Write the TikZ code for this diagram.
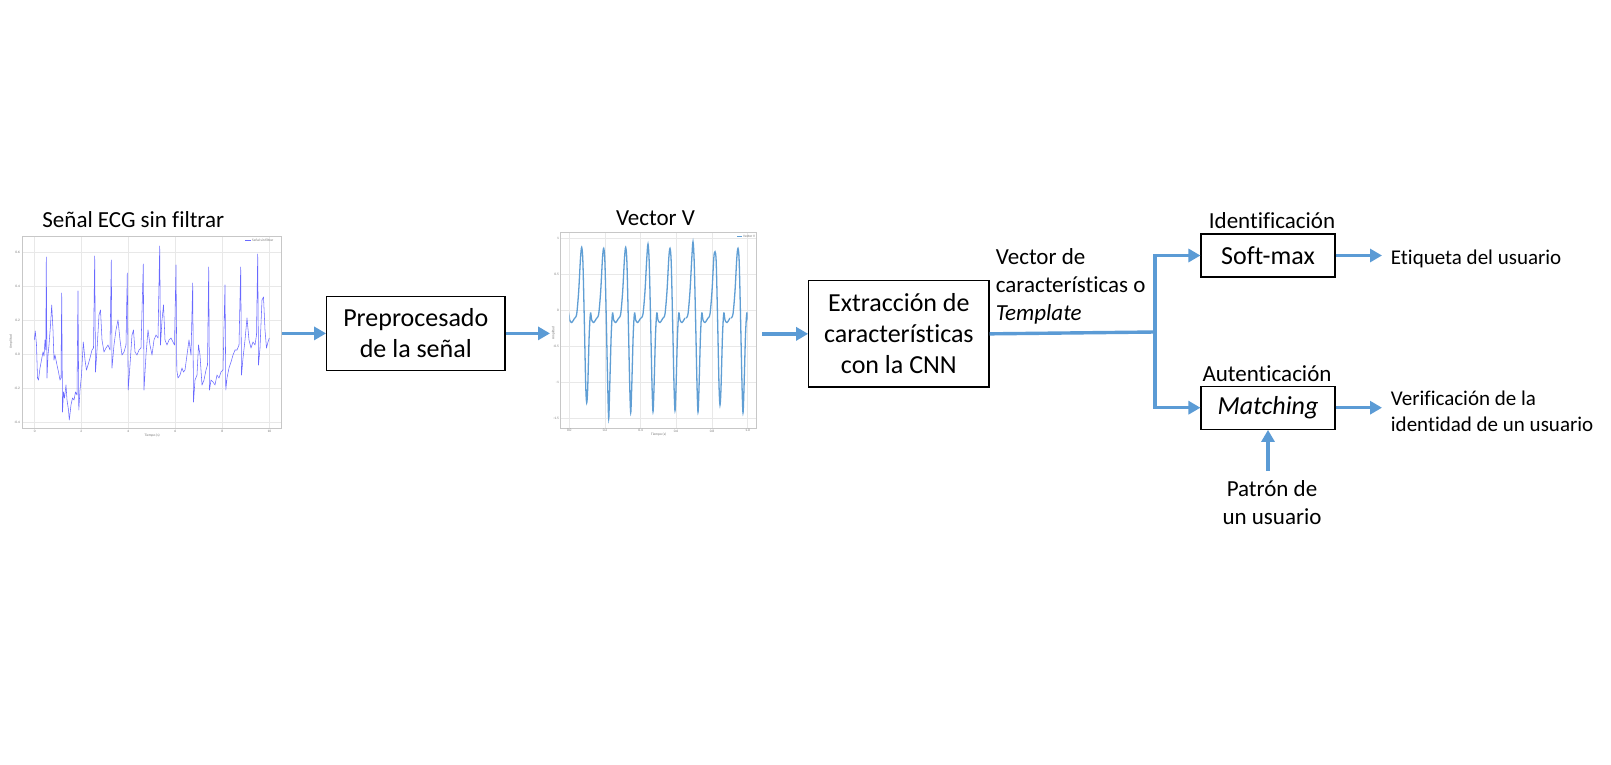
\documentclass[tikz,border=0pt]{standalone}
\usepackage{fontspec}
\setmainfont{Carlito}[Ligatures={NoCommon}]
\usetikzlibrary{arrows.meta,calc}
\definecolor{arrblue}{RGB}{91,155,213}
\definecolor{ecgblue}{RGB}{105,105,255}
\definecolor{vblue}{RGB}{95,158,212}
\begin{document}
\begin{tikzpicture}[x=1pt,y=-1pt,
  box/.style={draw=black, line width=1.1pt, inner sep=0pt, align=center, font=\fontsize{26}{31}\selectfont},
  conn/.style={draw=arrblue, line width=3.4pt},
  arr/.style={conn, -{Triangle[length=12pt,width=13pt]}},
  lbl/.style={inner sep=0pt, anchor=base, font=\fontsize{23}{28}\selectfont},
  lblw/.style={inner sep=0pt, anchor=base west, font=\fontsize{23}{28}\selectfont},
  rlbl/.style={inner sep=0pt, anchor=base west, font=\fontsize{21}{26}\selectfont},
  tiny/.style={inner sep=0pt, font=\fontsize{3.5}{4}\selectfont, text=black!55},
  plotframe/.style={draw=black!22, line width=1pt, inner sep=0pt},
  gridl/.style={draw=black!9, line width=0.6pt}
]
\useasboundingbox (0,0) rectangle (1611,765);
\fill[white] (0,0) rectangle (1611,765);

% ---------- Plot 1: unfiltered ECG ----------
\node[plotframe, minimum width=259pt, minimum height=192.3pt] (p1) at (152.2,332.15) {};
\foreach \gx in {34.7,81.3,128.3,175.3,222.3,269.3} \draw[gridl] (\gx,236.5) -- (\gx,427.8);
\foreach \gy in {252.7,286.7,320.7,354.7,388.7,422.7} \draw[gridl] (23.2,\gy) -- (281.2,\gy);
\foreach \gy/\t in {252.7/0.6,286.7/0.4,320.7/0.2,354.7/0.0,388.7/-0.2,422.7/-0.4}
  \node[tiny, anchor=east] (p1y\t) at (20,\gy) {\t};
\foreach \gx/\t in {34.7/0,81.3/2,128.3/4,175.3/6,222.3/8,269.3/10}
  \node[tiny, anchor=north] (p1x\t) at (\gx,430) {\t};
\node[tiny, anchor=north] (p1xl) at (152.2,434) {Tiempo (s)};
\node[tiny, rotate=90] (p1yl) at (11,341.7) {Amplitud};
\draw[ecgblue, line width=0.5pt] (245,240.7) -- (251,240.7);
\node[tiny, anchor=west] (p1leg) at (252,240.7) {Señal sin filtrar};
\draw[ecgblue, line width=0.55pt, line join=round] plot coordinates {
(34.3,340) (35.3,331) (36.5,345) (37.5,378) (38.5,380) (40,368) (41.5,360) (43,352) (44,356) (45,340) (45.8,350) (46.3,257) (47,378) (48,355) (49,345) (50.5,325) (51.7,305) (53,330) (54,360) (55,355) (56,360) (57,365) (58.5,372) (60,380) (61,378) (61.7,293) (62.5,412) (63.5,392) (64.5,398) (66,385) (67,400) (68.5,410) (69.3,420) (71,405) (72.5,398) (74,400) (75.5,392) (77,395) (78,291) (78.8,410) (80,390) (81.5,375) (83.3,342) (85,360) (86.5,370) (88,365) (90,358) (92,350) (93.5,348) (94.7,256) (95.5,372) (97,350) (99,315) (100.5,310) (102,340) (104,352) (106,348) (108,345) (110,350) (111.3,260) (112,368) (114,345) (116,330) (118,320) (120,340) (122,355) (124,352) (126,345) (127.3,273) (128.2,390) (130,365) (132,335) (133.5,330) (135,352) (137,355) (139,350) (141,348) (143.3,264) (144,390) (146,355) (148,330) (150,345) (152,355) (154,340) (156,335) (158,338) (159.7,246) (160.5,345) (162,320) (163.5,305) (165,340) (167,345) (169,340) (171,338) (173,342) (174.5,345) (176,265) (176.8,370) (178,378) (180,375) (182,368) (183.5,372) (185,370) (187,355) (189,340) (191,355) (192.7,283) (193.5,402) (195,380) (197,375) (198.5,345) (200,355) (202,385) (204,380) (206,370) (207.5,365) (208.7,267) (209.5,390) (211,380) (213,382) (215,385) (217,375) (219,378) (221,372) (223,370) (225,285) (225.8,390) (227,378) (229,368) (231,362) (233,355) (235,350) (237,350) (239,345) (240.7,267) (241.5,375) (243,358) (245,340) (247,318) (249,340) (251,348) (253,342) (255,345) (256.5,335) (257.7,254) (258.5,365) (260,348) (262,300) (263.5,297) (265,330) (266.5,348) (268,342) (269.3,338)};

% ---------- Plot 2: Vector V ----------
\node[plotframe, minimum width=196pt, minimum height=195.6pt] (p2) at (658.7,330.5) {};
\foreach \gx in {569.3,605,640.7,676,712,747.7} \draw[gridl] (\gx,233.2) -- (\gx,427.8);
\foreach \gy in {238.7,274.7,310.7,346.7,382.7,418.7} \draw[gridl] (561.2,\gy) -- (756.2,\gy);
\foreach \gy/\t in {238.7/1,274.7/0.5,310.7/0,346.7/-0.5,382.7/-1,418.7/-1.5}
  \node[tiny, anchor=east] (p2y\t) at (559,\gy) {\t};
\foreach \gx/\t in {569.3/0.0,605/0.2,640.7/0.4,676/0.6,712/0.8,747.7/1.0}
  \node[tiny, anchor=north] (p2x\t) at (\gx,429.5) {\t};
\node[tiny, anchor=north] (p2xl) at (658.7,433) {Tiempo (s)};
\node[tiny, rotate=90] (p2yl) at (553.5,333) {Amplitud};
\draw[vblue, line width=0.8pt] (737,236) -- (742,236);
\node[tiny, anchor=west] (p2leg) at (743,236) {Vector V};
\begin{scope}
\clip (569.3,230) rectangle (747.5,430);
\foreach \xp/\P/\T in {559.7/247/410, 581.7/247.3/402.7, 603.7/248.3/418.7, 625.7/247.3/412.7, 648/244/411.7, 670/248.3/410.7, 693/241.7/412, 715/251.7/405, 738/248.3/412.7}
  \draw[vblue, line width=1.3pt] plot[smooth, tension=0.5] coordinates {
    (\xp-7,318) (\xp-5,314) (\xp-3,291) (\xp-1.2,258) (\xp,\P) (\xp+1.2,262) (\xp+2.6,320) (\xp+4,385) (\xp+5,\T) (\xp+6,388) (\xp+7.5,335) (\xp+8.8,313) (\xp+10,320) (\xp+12,322.5) (\xp+15,318)};
\end{scope}

% ---------- Titles over plots ----------
\node[lbl] (t1) at (133.3,227) {Señal ECG sin filtrar};
\node[lbl] (t2) at (655.5,225) {Vector V};

% ---------- Boxes ----------
\node[box, minimum width=178.3pt, minimum height=74.7pt] (pre) at (415.8,333.4) {Preprocesado\\de la señal};
\node[box, minimum width=180.3pt, minimum height=106.3pt] (ext) at (898.85,333.85) {Extracción de\\características\\con la CNN};
\node[box, minimum width=134pt, minimum height=43pt] (soft) at (1268,255.5) {Soft-max};
\node[box, minimum width=134pt, minimum height=43.3pt] (match) at (1268,407.7) {\itshape Matching};

% ---------- Connectors ----------
\coordinate (a2e) at (550,333.4);
\coordinate (a3s) at (762,333.85);
\coordinate (j) at (1155,332);
\coordinate (o1) at (1382,255.5);
\coordinate (o2) at (1382,407.7);
\coordinate (pt) at (1268,471);
\draw[arr] (p1.east |- pre.west) -- (pre.west);
\draw[arr] (pre.east) -- (a2e);
\draw[arr] (a3s) -- (ext.west);
\draw[conn] (ext.east) -- (j);
\draw[arr] (j) |- (soft.west);
\draw[arr] (j) |- (match.west);
\draw[arr] (soft.east) -- (o1);
\draw[arr] (match.east) -- (o2);
\draw[arr] (pt) -- (match.south);

% ---------- Labels ----------
\node[lblw] (v1) at (995.7,264.3) {Vector de};
\node[lblw] (v2) at (995.7,292.7) {características o};
\node[lblw] (v3) at (995.7,320.7) {\itshape Template};
\node[lbl] (idl) at (1272,228.3) {Identificación};
\node[lbl] (aul) at (1267,381) {Autenticación};
\node[lbl] (pa1) at (1272,496) {Patrón de};
\node[lbl] (pa2) at (1272,524) {un usuario};
\node[rlbl] (et) at (1390.7,264) {Etiqueta del usuario};
\node[rlbl] (ve1) at (1390.7,405.7) {Verificación de la};
\node[rlbl] (ve2) at (1390.7,431.7) {identidad de un usuario};
\end{tikzpicture}
\end{document}
